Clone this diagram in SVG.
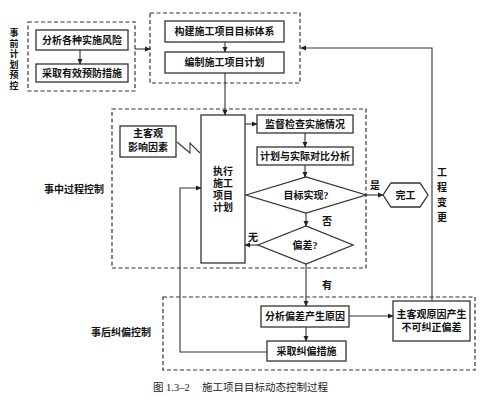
<svg xmlns="http://www.w3.org/2000/svg" width="497" height="405" viewBox="0 0 497 405">
<defs>
<marker id="ah" markerWidth="6" markerHeight="6" refX="5" refY="3" orient="auto" markerUnits="userSpaceOnUse">
<path d="M0,0.5 L5.5,3 L0,5.5 Z" fill="#222"/>
</marker>
<style>
.box{fill:#fff;stroke:#333;stroke-width:1.3}
.dash{fill:none;stroke:#333;stroke-width:1.2;stroke-dasharray:4,2.5}
.ln{fill:none;stroke:#333;stroke-width:1.1}
.arr{fill:none;stroke:#333;stroke-width:1.1;marker-end:url(#ah)}
.t{font-family:"Liberation Serif","Noto Sans CJK SC",serif;font-size:10px;font-weight:bold;fill:#111;text-anchor:middle}
.v{font-size:9px}
.cap{font-family:"Liberation Serif","Noto Sans CJK SC",serif;font-size:10.5px;fill:#222;text-anchor:start}
</style>
</defs>
<rect width="497" height="405" fill="#fff"/>

<g id="regions">
<rect class="dash" x="28" y="22" width="107" height="69"/>
<rect class="dash" x="150" y="13" width="150" height="70"/>
<rect class="dash" x="112" y="109" width="254" height="159"/>
<rect class="dash" x="163" y="297" width="312" height="73"/>
</g>

<g id="labels">
<text class="t v" x="14" y="36">事</text>
<text class="t v" x="14" y="46.5">前</text>
<text class="t v" x="14" y="57">计</text>
<text class="t v" x="14" y="67.5">划</text>
<text class="t v" x="14" y="78">预</text>
<text class="t v" x="14" y="88.5">控</text>
<text class="t" x="74" y="193">事中过程控制</text>
<text class="t" x="121" y="336">事后纠偏控制</text>
<text class="t" x="442" y="176">工</text>
<text class="t" x="442" y="191">程</text>
<text class="t" x="442" y="206">变</text>
<text class="t" x="442" y="221">更</text>
<text class="t" x="375" y="189">是</text>
<text class="t" x="327" y="225">否</text>
<text class="t" x="253" y="241">无</text>
<text class="t" x="327" y="289">有</text>
<text class="cap" x="153" y="391">图 1.3–2</text>
<text class="cap" x="202" y="391">施工项目目标动态控制过程</text>
</g>

<g id="n-risk"><rect class="box" x="36" y="30" width="92" height="20"/><text class="t" x="82" y="44">分析各种实施风险</text></g>
<g id="n-prevent"><rect class="box" x="36" y="64" width="92" height="18"/><text class="t" x="82" y="77">采取有效预防措施</text></g>
<g id="n-target"><rect class="box" x="165" y="21" width="119" height="21"/><text class="t" x="224.5" y="35">构建施工项目目标体系</text></g>
<g id="n-plan"><rect class="box" x="165" y="52" width="119" height="21"/><text class="t" x="224.5" y="66">编制施工项目计划</text></g>
<g id="n-factor"><rect class="box" x="120" y="126" width="56" height="31"/><text class="t" x="148" y="137">主客观</text><text class="t" x="148" y="151">影响因素</text></g>
<g id="n-exec"><rect class="box" x="201" y="115" width="44" height="148"/>
<text class="t" x="223" y="175">执行</text><text class="t" x="223" y="187">施工</text><text class="t" x="223" y="199">项目</text><text class="t" x="223" y="211">计划</text></g>
<g id="n-monitor"><rect class="box" x="257" y="115" width="96" height="18"/><text class="t" x="305" y="128">监督检查实施情况</text></g>
<g id="n-compare"><rect class="box" x="257" y="147" width="96" height="18"/><text class="t" x="305" y="160">计划与实际对比分析</text></g>
<g id="n-goal"><polygon class="box" points="246,195 306,177 366,195 306,213"/><text class="t" x="306" y="199">目标实现?</text></g>
<g id="n-done"><polygon class="box" points="383,195 391,183 420,183 428,195 420,207 391,207"/><text class="t" x="405.5" y="199">完工</text></g>
<g id="n-dev"><polygon class="box" points="258,245 306,226 353,245 306,264"/><text class="t" x="305" y="249">偏差?</text></g>
<g id="n-cause"><rect class="box" x="261" y="306" width="88" height="21"/><text class="t" x="305" y="320">分析偏差产生原因</text></g>
<g id="n-correct"><rect class="box" x="267" y="341" width="79" height="20"/><text class="t" x="306.5" y="355">采取纠偏措施</text></g>
<g id="n-uncorr"><rect class="box" x="393" y="301" width="77" height="40"/><text class="t" x="431.5" y="318">主客观原因产生</text><text class="t" x="431.5" y="331">不可纠正偏差</text></g>

<g id="connectors">
<line class="arr" x1="80" y1="50" x2="80" y2="64"/>
<line class="arr" x1="135" y1="49" x2="150" y2="49"/>
<line class="arr" x1="225" y1="42" x2="225" y2="52"/>
<line class="arr" x1="225" y1="73" x2="225" y2="115"/>
<line class="arr" x1="245" y1="124" x2="257" y2="124"/>
<line class="arr" x1="305" y1="133" x2="305" y2="147"/>
<line class="arr" x1="305" y1="165" x2="305" y2="177"/>
<line class="arr" x1="366" y1="195" x2="383" y2="195"/>
<line class="arr" x1="306" y1="213" x2="306" y2="226"/>
<line class="arr" x1="258" y1="245" x2="245" y2="245"/>
<line class="arr" x1="306" y1="264" x2="306" y2="306"/>
<line class="arr" x1="306" y1="327" x2="306" y2="341"/>
<line class="arr" x1="349" y1="316" x2="393" y2="316"/>
<polyline class="arr" points="432,301 432,48 301,48"/>
<polyline class="arr" points="267,352 180,352 180,188 201,188"/>
<polyline class="ln" points="177,142 190,153 190,143 200,153"/>
</g>
</svg>
